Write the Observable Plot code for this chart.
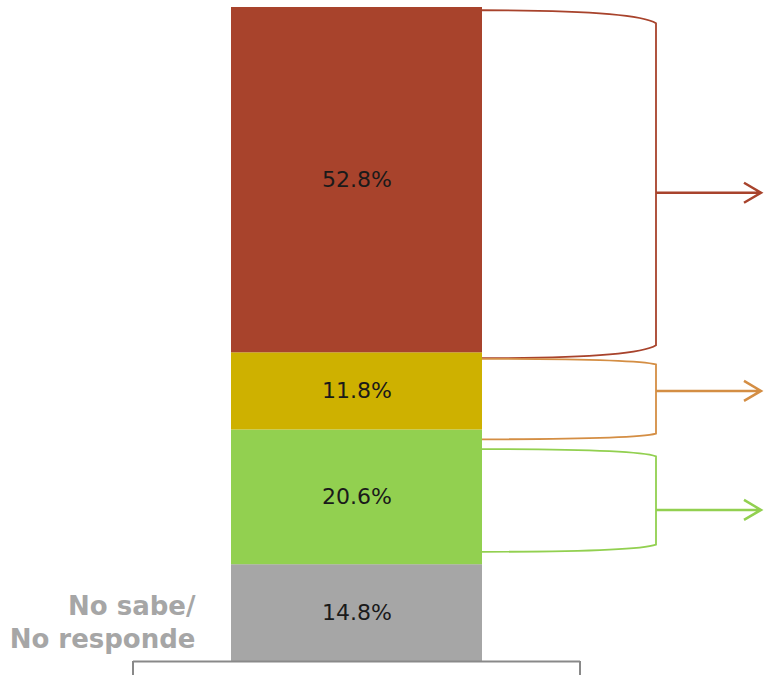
<!DOCTYPE html>
<html><head><meta charset="utf-8">
<script src="https://cdn.jsdelivr.net/npm/d3@7"></script>
<script src="https://cdn.jsdelivr.net/npm/@observablehq/plot@0.6"></script>
<style>html,body{margin:0;padding:0;background:#fff}</style>
</head><body><div id="chart"></div>
<script>
// Stacked segments, bottom to top
const segments = ["No sabe/\nNo responde", "Verde", "Amarillo", "Rojo"];
const values = [14.8, 20.6, 11.8, 52.8];
const colors = ["#a6a6a6", "#92d050", "#ceb100", "#a8432c"];
const category = "Total";

// Brackets on the right (in % of the stacked axis): top, bottom, arrow level
const bracketTop = [99.5, 46.2, 32.4];
const bracketBottom = [46.3, 33.9, 16.7];
const bracketArrow = [71.6, 41.3, 23.1];
const bracketColors = ["#a8432c", "#d48e44", "#92d050"];

let acc = 0;
const data = segments.map((s, i) => {
  const d = {segment: s, value: values[i], y0: acc, y1: acc + values[i]};
  d.mid = (d.y0 + d.y1) / 2;
  acc += values[i];
  return d;
});
const brackets = bracketTop.map((t, i) => ({top: t, bottom: bracketBottom[i], arrow: bracketArrow[i], color: bracketColors[i]}));

function decorations(index, scales, values, dims) {
  const x = scales.x, y = scales.y;
  const bw = typeof x.bandwidth === "function" ? x.bandwidth() : 0;
  const barRight = x(category) + bw;
  const g = d3.create("svg:g");
  // brackets and arrows
  for (const b of brackets) {
    const yt = y(b.top), yb = y(b.bottom), ya = y(b.arrow);
    const xv = barRight + 174, xe = barRight + 279;
    const d = Math.min(13, 0.07 * (yb - yt));
    const ctrl = xv - 0.12 * (xv - barRight);
    g.append("path")
      .attr("d", `M${barRight},${yt} Q${ctrl},${yt} ${xv},${yt + d} L${xv},${yb - d} Q${ctrl},${yb} ${barRight},${yb}`)
      .attr("fill", "none").attr("stroke", b.color).attr("stroke-width", 1.8);
    g.append("path")
      .attr("d", `M${xv},${ya} L${xe},${ya} M${xe - 17},${ya - 10} L${xe},${ya} L${xe - 17},${ya + 10}`)
      .attr("fill", "none").attr("stroke", b.color).attr("stroke-width", 2.5);
  }
  // category axis end ticks
  const y0 = y(0);
  const xl = dims.marginLeft, xr = dims.width - dims.marginRight;
  for (const xx of [xl, xr]) {
    g.append("line").attr("x1", xx).attr("x2", xx).attr("y1", y0).attr("y2", y0 + 14)
      .attr("stroke", "#898989").attr("stroke-width", 2);
  }
  return g.node();
}

const chart = Plot.plot({
  width: 769,
  height: 678,
  marginTop: 7,
  marginBottom: 17,
  marginLeft: 133,
  marginRight: 189,
  style: {background: "#fff", fontFamily: "DejaVu Sans"},
  x: {domain: [category], padding: 0.28, axis: null},
  y: {domain: [0, 100], axis: null},
  color: {domain: segments, range: colors},
  marks: [
    Plot.barY(data, {x: () => category, y1: "y0", y2: "y1", fill: "segment"}),
    Plot.ruleY([0], {stroke: "#898989", strokeWidth: 2}),
    Plot.text(data, {x: () => category, y: "mid", text: d => d.value.toFixed(1) + "%", fontSize: 22, fill: "#1a1a1a", fontFamily: "DejaVu Sans"}),
    Plot.text(data.slice(0, 1), {y: "mid", text: "segment", frameAnchor: "left", textAnchor: "end", dx: 62, dy: 8, lineHeight: 1.28, fontSize: 26, fontWeight: "bold", fill: "#a6a6a6", fontFamily: "DejaVu Sans"}),
    decorations
  ]
});
document.getElementById("chart").appendChild(chart);
</script>
</body></html>
